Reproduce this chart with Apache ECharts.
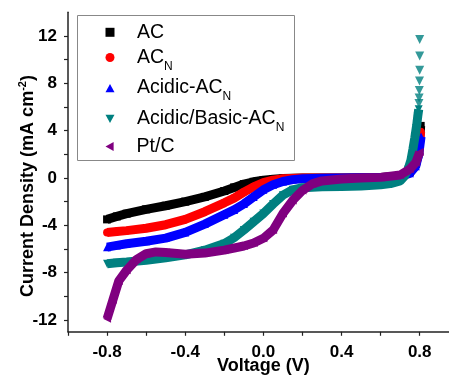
<!DOCTYPE html>
<html>
<head>
<meta charset="utf-8">
<script src="https://cdn.jsdelivr.net/npm/echarts@6/dist/echarts.min.js"></script>
<style>
  html, body { margin: 0; padding: 0; background: #fff; }
  #chart { width: 449px; height: 375px; }
</style>
</head>
<body>
<div id="chart"></div>
<script>
// LSV curves, [voltage (V), current density (mA cm-2)]
const acData = [[-0.8,-3.5],[-0.75,-3.25],[-0.7,-3.02],[-0.6,-2.65],[-0.5,-2.35],[-0.4,-2.0],[-0.3,-1.6],[-0.2,-1.1],[-0.15,-0.8],[-0.1,-0.52],[-0.05,-0.32],[0,-0.19],[0.05,-0.1],[0.1,-0.05],[0.2,-0.01],[0.4,0],[0.6,0.05],[0.7,0.15],[0.75,0.5],[0.78,1.2],[0.795,2.4],[0.805,4.4]];
const acnData = [[-0.8,-4.6],[-0.75,-4.52],[-0.7,-4.45],[-0.6,-4.25],[-0.5,-3.95],[-0.4,-3.5],[-0.3,-2.85],[-0.2,-2.1],[-0.15,-1.7],[-0.1,-1.2],[-0.05,-0.75],[0,-0.4],[0.05,-0.18],[0.1,-0.07],[0.2,-0.01],[0.4,0],[0.6,0.05],[0.7,0.12],[0.75,0.45],[0.78,1.1],[0.795,2.2],[0.805,3.9]];
const acidicData = [[-0.8,-5.85],[-0.75,-5.7],[-0.7,-5.56],[-0.6,-5.35],[-0.5,-5.08],[-0.4,-4.6],[-0.3,-3.9],[-0.2,-3.1],[-0.15,-2.7],[-0.1,-2.2],[-0.05,-1.6],[0,-1.0],[0.05,-0.58],[0.1,-0.3],[0.15,-0.14],[0.2,-0.06],[0.3,-0.02],[0.4,0],[0.6,0.04],[0.7,0.1],[0.75,0.4],[0.78,1.0],[0.795,2.0],[0.807,3.5]];
const basicData = [[-0.8,-7.25],[-0.75,-7.17],[-0.7,-7.1],[-0.6,-6.95],[-0.5,-6.75],[-0.4,-6.5],[-0.3,-6.1],[-0.2,-5.55],[-0.15,-5.05],[-0.1,-4.4],[-0.05,-3.7],[0,-3.0],[0.05,-2.2],[0.1,-1.45],[0.15,-1.0],[0.2,-0.82],[0.3,-0.75],[0.4,-0.72],[0.5,-0.68],[0.6,-0.58],[0.65,-0.48],[0.7,-0.25],[0.72,0.1],[0.74,0.7],[0.755,1.5],[0.765,2.4],[0.775,3.4],[0.785,4.5],[0.79,5.2],[0.795,5.8]];
const basicSpike = [[0.796,6.3],[0.797,6.75],[0.798,7.4],[0.799,8.2],[0.8,9.1],[0.8,10.3],[0.8,11.7]];
const ptcData = [[-0.8,-11.9],[-0.77,-10.3],[-0.74,-8.7],[-0.7,-7.8],[-0.65,-6.9],[-0.6,-6.4],[-0.55,-6.25],[-0.5,-6.3],[-0.4,-6.45],[-0.3,-6.35],[-0.2,-6.1],[-0.1,-5.75],[-0.05,-5.5],[0,-5.1],[0.05,-4.4],[0.1,-3.0],[0.15,-1.9],[0.2,-1.05],[0.25,-0.5],[0.3,-0.25],[0.4,-0.08],[0.5,0],[0.6,0.05],[0.7,0.25],[0.75,0.75],[0.78,1.3],[0.8,2.2]];

const xTicks = [-1.0,-0.8,-0.6,-0.4,-0.2,0,0.2,0.4,0.6,0.8];
const xLabels = [-0.8,-0.4,0,0.4,0.8];
const yTicks = [-12,-10,-8,-6,-4,-2,0,2,4,6,8,10,12];
const yLabels = [-12,-8,-4,0,4,8,12];

const names = ['AC', 'ACN', 'Acidic', 'Basic', 'PtC'];
const legendText = {
  AC: '{a|AC}',
  ACN: '{a|AC}{n|N}',
  Acidic: '{a|Acidic-AC}{n|N}',
  Basic: '{a|Acidic/Basic-AC}{n|N}',
  PtC: '{a|Pt/C}',
};
const legendIcons = ['rect', 'circle', 'path://M5,0 L10,9 L0,9 Z', 'path://M0,0 L10,0 L5,9 Z', 'path://M9,0 L9,10 L0,5 Z'];
const legendTops = [22.3, 47.5, 78.1, 108.9, 136.4];
const colors = ['#000000', '#ff0000', '#0000ff', '#008080', '#800080'];

const FONT = "'Liberation Sans', Arial, sans-serif";

function curve(name, data, color, symbol, rotate, z) {
  return {
    name: name,
    type: 'line',
    z: z,
    data: data,
    color: color,
    symbol: symbol,
    symbolRotate: rotate,
    symbolSize: 8,
    showSymbol: true,
    lineStyle: { width: 9, color: color },
    itemStyle: { color: color },
  };
}

// one legend per row so the rows can sit where the original has them
const legends = names.map((name, i) => ({
  orient: 'vertical',
  left: 105.5,
  top: legendTops[i],
  padding: 0,
  itemWidth: 9,
  itemHeight: 9,
  symbolRotate: 0,
  data: [{ name: name, icon: legendIcons[i] }],
  formatter: (n) => legendText[n],
  textStyle: {
    fontFamily: FONT,
    color: '#000',
    rich: {
      a: { fontSize: 19.5, lineHeight: 16, padding: [0, 0, 0, 17.5], verticalAlign: 'middle', fontFamily: FONT },
      n: { fontSize: 12, padding: [18, 0, 0, 0], verticalAlign: 'bottom', fontFamily: FONT },
    },
  },
}));

const chart = echarts.init(document.getElementById('chart'));
chart.setOption({
  animation: false,
  textStyle: { fontFamily: FONT },
  grid: { left: 68, right: 0, top: 12.3, bottom: 43.2 },
  legend: legends,
  xAxis: {
    type: 'value',
    min: -1.0,
    max: 0.95,
    splitLine: { show: false },
    axisLine: { onZero: false, lineStyle: { color: '#222', width: 1.5 } },
    axisTick: { customValues: xTicks, length: 4, lineStyle: { color: '#222', width: 1.2 } },
    axisLabel: {
      customValues: xLabels,
      margin: 12,
      fontSize: 17,
      fontWeight: 'bold',
      color: '#000',
      fontFamily: FONT,
      formatter: (v) => v.toFixed(1),
    },
  },
  yAxis: {
    type: 'value',
    min: -13,
    max: 14,
    splitLine: { show: false },
    axisLine: { show: true, onZero: false, lineStyle: { color: '#222', width: 1.5 } },
    axisTick: { show: true, customValues: yTicks, length: 4, lineStyle: { color: '#222', width: 1.2 } },
    axisLabel: {
      customValues: yLabels,
      margin: 11,
      fontSize: 17,
      fontWeight: 'bold',
      color: '#000',
      fontFamily: FONT,
    },
  },
  graphic: [
    {
      type: 'rect',
      shape: { x: 77.5, y: 15.5, width: 217, height: 145 },
      style: { fill: 'none', stroke: '#888', lineWidth: 1 },
    },
    {
      type: 'text',
      x: 27,
      y: 186,
      rotation: Math.PI / 2,
      style: {
        text: '{a|Current Density (mA cm}{s|-2}{a|)}',
        align: 'center',
        verticalAlign: 'middle',
        fill: '#000',
        rich: {
          a: { fontSize: 18, fontWeight: 'bold', lineHeight: 20, verticalAlign: 'bottom', fontFamily: FONT },
          s: { fontSize: 11, fontWeight: 'bold', lineHeight: 11, padding: [0, 0, 12, 0], verticalAlign: 'top', fontFamily: FONT },
        },
      },
    },
    {
      type: 'text',
      x: 263.3,
      y: 366,
      style: {
        text: 'Voltage (V)',
        align: 'center',
        verticalAlign: 'middle',
        fill: '#000',
        font: "bold 18px 'Liberation Sans', Arial, sans-serif",
      },
    },
  ],
  series: [
    curve('AC', acData, colors[0], 'rect', 0, 2),
    curve('ACN', acnData, colors[1], 'circle', 0, 3),
    curve('Acidic', acidicData, colors[2], 'triangle', 0, 4),
    curve('Basic', basicData, colors[3], 'triangle', 180, 5),
    {
      name: 'Basic',
      type: 'scatter',
      z: 5,
      data: basicSpike,
      symbol: 'triangle',
      symbolRotate: 180,
      symbolSize: 9,
      itemStyle: { color: colors[3] },
    },
    curve('PtC', ptcData, colors[4], 'triangle', 90, 6),
  ],
});
window.addEventListener('resize', () => { chart.resize(); });
</script>
</body>
</html>
